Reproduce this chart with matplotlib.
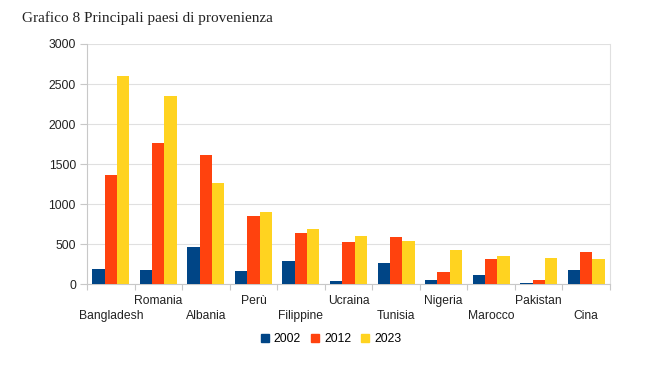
import matplotlib
matplotlib.use("Agg")
import matplotlib.pyplot as plt
import numpy as np

categories = ["Bangladesh", "Romania", "Albania", "Perù", "Filippine", "Ucraina",
              "Tunisia", "Nigeria", "Marocco", "Pakistan", "Cina"]
series_names = ["2002", "2012", "2023"]
v2002 = [190, 180, 460, 165, 290, 40, 267, 50, 115, 10, 175]
v2012 = [1360, 1760, 1610, 850, 640, 525, 585, 155, 315, 50, 400]
v2023 = [2600, 2350, 1270, 900, 690, 600, 540, 430, 350, 325, 315]
colors = ["#004586", "#ff420e", "#ffd320"]
yticks = [0, 500, 1000, 1500, 2000, 2500, 3000]

plt.rcParams['font.family'] = ['Liberation Sans', 'DejaVu Sans']

fig = plt.figure(figsize=(6.5, 3.71), dpi=100)
W, H = 650, 371
ax = fig.add_axes([87 / W, (H - 284.3) / H, (610 - 87) / W, (284.3 - 44) / H])

n = len(categories)
x = np.arange(n)
bw = 0.26
for i, (vals, c) in enumerate(zip([v2002, v2012, v2023], colors)):
    ax.bar(x + (i - 1) * bw, vals, width=bw, color=c, label=series_names[i], zorder=3)

ax.set_xlim(-0.5, n - 0.5)
ax.set_ylim(0, 3000)
ax.set_yticks(yticks)
ax.set_yticklabels([str(t) for t in yticks], fontsize=8.7, color="#222222")
ax.yaxis.grid(True, color="#e0e0e0", linewidth=0.8, zorder=0)
ax.tick_params(axis='y', length=5, color="#c8c8c8", pad=3)

# category boundary ticks
ax.set_xticks(np.arange(-0.5, n, 1.0))
ax.set_xticklabels([])
ax.tick_params(axis='x', length=4, color="#c8c8c8")
for i, cat in enumerate(categories):
    yoff = -0.07 if i % 2 == 1 else -0.13
    ax.text(i, yoff, cat, transform=ax.get_xaxis_transform(), ha='center', va='center',
            fontsize=8.7, color="#222222")

ax.spines["top"].set_visible(False)
ax.spines["right"].set_color("#e0e0e0")
ax.spines["left"].set_color("#c8c8c8")
ax.spines["bottom"].set_color("#c8c8c8")

fig.text(22 / W, 1 - 18 / H, "Grafico 8 Principali paesi di provenienza",
         fontsize=11, family=['Liberation Serif', 'DejaVu Serif'], ha='left', va='center',
         color="#222222")

handles = [plt.Rectangle((0, 0), 1, 1, color=c) for c in colors]
fig.legend(handles, series_names, loc='center', bbox_to_anchor=(331 / W, 1 - 339 / H),
           ncol=3, frameon=False, fontsize=8.7, handlelength=0.7, handleheight=0.7,
           handletextpad=0.4, columnspacing=0.8)

fig.savefig("out.png", dpi=100)
